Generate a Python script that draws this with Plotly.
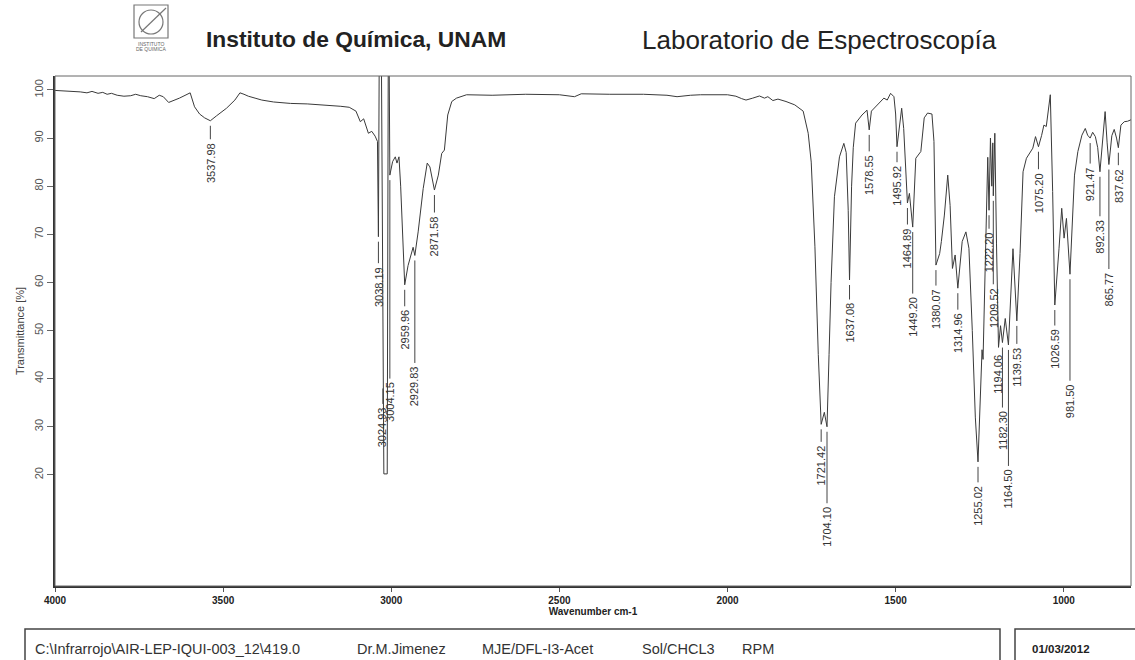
import plotly.graph_objects as go

# ---------------------------------------------------------------- data
wavenumber = [
    4000, 3975, 3950, 3925, 3905, 3890, 3872, 3858, 3845, 3832, 3815, 3795,
    3775, 3760, 3745, 3725, 3705, 3690, 3678, 3662, 3630, 3598, 3585, 3570,
    3555, 3537.98, 3520, 3490, 3465, 3450, 3438, 3425, 3405, 3385, 3350, 3300,
    3250, 3200, 3150, 3125, 3105, 3092, 3082, 3068, 3058, 3048, 3041, 3038.19,
    3036, 3029, 3024.93, 3022, 3012, 3009, 3006, 3004.15, 2996, 2988, 2983,
    2977, 2972, 2959.96, 2950, 2940, 2935, 2929.83, 2920, 2905, 2893, 2885,
    2871.58, 2860, 2850, 2842, 2832, 2820, 2806, 2776, 2700, 2600, 2500, 2455,
    2435, 2350, 2250, 2180, 2150, 2110, 2080, 2000, 1975, 1958, 1945, 1925,
    1905, 1890, 1880, 1865, 1850, 1826, 1800, 1775, 1760, 1751, 1740, 1730,
    1721.42, 1712, 1704.10, 1698, 1692, 1682, 1667, 1654, 1647, 1641, 1637.08,
    1631, 1626, 1619, 1600, 1585, 1578.55, 1572, 1555, 1545, 1535, 1525, 1515,
    1505, 1500, 1495.92, 1488, 1482, 1476, 1464.89, 1459, 1449.20, 1440, 1425,
    1415, 1405, 1392, 1386, 1380.07, 1369, 1364, 1355, 1345, 1338, 1331, 1323,
    1314.96, 1302, 1291, 1282, 1272, 1263, 1255.02, 1247, 1243, 1240, 1235,
    1230, 1226, 1222.20, 1218, 1214, 1211, 1209.52, 1205, 1200, 1196, 1194.06,
    1188, 1182.30, 1174, 1164.50, 1151, 1139.53, 1130, 1121, 1111, 1101, 1092,
    1084, 1075.20, 1066, 1059, 1052, 1048, 1040, 1033, 1026.59, 1014, 1006,
    999, 992, 981.50, 968, 958, 946, 936, 929, 921.47, 914, 906, 899, 892.33,
    884, 877, 871, 865.77, 857, 850, 843, 837.62, 830, 820, 810, 800,
]
transmittance = [
    99.9, 99.8, 99.8, 99.6, 99.4, 99.7, 99.3, 99.5, 99.1, 99.3, 98.9, 98.7,
    98.8, 99.1, 98.8, 98.6, 98.2, 98.9, 98.6, 97.4, 98.3, 99.4, 96.5, 95.0,
    94.2, 93.6, 94.6, 96.2, 97.9, 99.4, 99.1, 98.7, 98.3, 97.9, 97.5, 97.2,
    97.1, 96.9, 96.6, 96.4, 95.6, 93.4, 94.0, 91.0, 91.4, 90.4, 89.3, 69.5,
    103.5, 103.5, 39.0, 20.2, 20.2, 103.5, 103.5, 82.3, 85.1, 86.1, 84.8,
    86.1, 80.0, 59.5, 63.5, 66.4, 67.3, 65.6, 70.5, 79.5, 84.8, 84.0,
    79.2, 82.3, 86.8, 87.5, 94.8, 97.6, 98.3, 99.0, 98.9, 99.1, 99.0, 98.6,
    99.2, 99.1, 99.1, 98.9, 98.6, 98.9, 99.0, 99.0, 98.7, 98.2, 97.9, 98.3,
    98.75, 98.3, 98.6, 97.8, 98.1, 97.6, 96.9, 95.6, 91.0, 85.0, 67.4, 45.0,
    30.5, 33.0, 30.0, 45.0, 60.0, 77.8, 86.1, 88.9, 87.0, 75.0, 60.5,
    80.0, 88.0, 93.1, 94.8, 95.8, 91.7, 95.6, 96.9, 97.6, 98.3, 97.9, 99.3,
    98.6, 95.0, 88.2, 93.0, 96.2, 92.0, 76.5, 78.5, 71.5, 85.8, 87.2,
    94.2, 95.2, 95.0, 89.3, 63.6, 66.0, 68.5, 74.0, 82.3, 76.0, 62.9, 65.7,
    58.8, 68.5, 70.5, 67.1, 50.0, 32.0, 22.7, 38.0, 46.0, 44.0, 60.0,
    72.0, 86.0, 75.0, 90.0, 80.0, 89.0, 78.0, 91.0, 68.0, 50.0, 46.5,
    51.0, 47.5, 52.5, 47.0, 67.0, 52.0, 66.0, 83.0, 85.8, 86.8, 87.9,
    90.3, 88.2, 90.5, 92.7, 92.4, 94.8, 99.0, 78.9, 55.3, 67.1, 75.4,
    69.2, 73.3, 61.7, 82.3, 87.2, 90.6, 92.0, 90.6, 90.0, 91.2, 90.3, 88.0, 83.0,
    90.0, 95.5, 89.0, 84.5, 90.5, 91.8, 90.0, 88.0, 92.7, 93.4, 93.5, 93.8,
]

peak_labels = [
    "3537.98", "3038.19", "3024.93", "3004.15", "2959.96", "2929.83", "2871.58",
    "1721.42", "1704.10", "1637.08", "1578.55", "1495.92", "1464.89", "1449.20",
    "1380.07", "1314.96", "1255.02", "1222.20", "1209.52", "1194.06", "1182.30",
    "1164.50", "1139.53", "1075.20", "1026.59", "981.50", "921.47", "892.33",
    "865.77", "837.62",
]

x_tick_values = [4000, 3500, 3000, 2500, 2000, 1500, 1000]
y_tick_values = [20, 30, 40, 50, 60, 70, 80, 90, 100]

# distance (px) from each picked peak down to the centre of its label
label_drop_px = {
    "3537.98": 42, "3038.19": 50, "3024.93": 44, "3004.15": 227, "2959.96": 45,
    "2929.83": 131, "2871.58": 46, "1721.42": 41, "1704.10": 100, "1637.08": 43,
    "1578.55": 45, "1495.92": 39, "1464.89": 45, "1449.20": 90, "1380.07": 44,
    "1314.96": 45, "1255.02": 44, "1222.20": 42, "1209.52": 112, "1194.06": 27,
    "1182.30": 88, "1164.50": 144, "1139.53": 46, "1075.20": 46, "1026.59": 44,
    "981.50": 127, "921.47": 46, "892.33": 65, "865.77": 125, "837.62": 38,
}

# ---------------------------------------------------------------- geometry
W, H = 1135, 660
ML, MR, MT, MB = 55, 4, 76, 74
PW, PH = W - ML - MR, H - MT - MB


def paper(x, y):
    """page pixel -> paper coordinates"""
    return (x - ML) / PW, (H - MB - y) / PH


SANS = "Liberation Sans, Arial, sans-serif"
INK = "#333333"

fig = go.Figure()

fig.add_trace(go.Scatter(
    x=wavenumber, y=transmittance, mode="lines",
    line=dict(color="#3a3a3a", width=1), hoverinfo="x+y", showlegend=False,
))

annotations = []

# picked-peak labels with leader lines
for lab in peak_labels:
    wn = float(lab)
    t = transmittance[wavenumber.index(min(wavenumber, key=lambda w: abs(w - wn)))]
    annotations.append(dict(
        x=wn, y=t, xref="x", yref="y", text=lab, textangle=-90,
        showarrow=True, arrowhead=0, arrowwidth=1, arrowcolor="#444",
        ax=0, ay=label_drop_px[lab], standoff=5,
        font=dict(family=SANS, size=11, color=INK), borderpad=3,
    ))


def page_text(x, y, text, size, bold=False, anchor="left", color="#222"):
    px, py = paper(x, y)
    annotations.append(dict(
        x=px, y=py, xref="paper", yref="paper", text=text, showarrow=False,
        xanchor=anchor, yanchor="middle",
        font=dict(family=SANS, size=size, color=color,
                  weight="bold" if bold else "normal"),
    ))


# header
page_text(204, 39, "Instituto de Química, UNAM", 22.8, bold=True)
page_text(640, 40, "Laboratorio de Espectroscopía", 26)
page_text(151, 44, "INSTITUTO", 5, anchor="center", color="#666")
page_text(151, 49, "DE QUIMICA", 5, anchor="center", color="#666")

# footer
page_text(33, 649, r"C:\Infrarrojo\AIR-LEP-IQUI-003_12\419.0", 14.5, color=INK)
page_text(355, 649, "Dr.M.Jimenez", 14.5, color=INK)
page_text(480, 649, "MJE/DFL-I3-Acet", 14.5, color=INK)
page_text(640, 649, "Sol/CHCL3", 14.5, color=INK)
page_text(740, 649, "RPM", 14.5, color=INK)
page_text(1030, 649, "01/03/2012", 11.5, bold=True, color="#222")

shapes = []


def page_rect(x0, y0, x1, y1, color="#444", width=1.5):
    a, b = paper(x0, y0)
    c, d = paper(x1, y1)
    shapes.append(dict(type="rect", xref="paper", yref="paper",
                       x0=a, y0=d, x1=c, y1=b,
                       line=dict(color=color, width=width)))


# plot frame
shapes.append(dict(type="rect", xref="paper", yref="paper", x0=0, y0=0, x1=1, y1=1,
                   line=dict(color="#666", width=1)))
page_rect(25, 629, 1000, 675)
page_rect(1015, 629, 1145, 675)

# logo
lx0, ly0 = paper(134, 38)
lx1, ly1 = paper(168, 5)
shapes.append(dict(type="rect", xref="paper", yref="paper", x0=lx0, y0=ly0, x1=lx1, y1=ly1,
                   line=dict(color="#777", width=1.2)))
cx0, cy0 = paper(139, 34)
cx1, cy1 = paper(163, 10)
shapes.append(dict(type="circle", xref="paper", yref="paper", x0=cx0, y0=cy0, x1=cx1, y1=cy1,
                   line=dict(color="#777", width=1.2)))
dx0, dy0 = paper(141, 32)
dx1, dy1 = paper(166, 8)
shapes.append(dict(type="line", xref="paper", yref="paper", x0=dx0, y0=dy0, x1=dx1, y1=dy1,
                   line=dict(color="#777", width=1.2)))

fig.update_layout(
    width=W, height=H,
    margin=dict(l=ML, r=MR, t=MT, b=MB, pad=0),
    paper_bgcolor="white", plot_bgcolor="white",
    showlegend=False,
    annotations=annotations,
    shapes=shapes,
    xaxis=dict(
        range=[4000, 800], tickvals=x_tick_values,
        ticks="outside", ticklen=4, tickcolor="#555",
        tickfont=dict(family=SANS, size=10, color="#222", weight="bold"),
        showline=True, linewidth=2, linecolor="#333",
        showgrid=False, zeroline=False,
        title=dict(text="Wavenumber cm-1", standoff=3,
                   font=dict(family=SANS, size=10, color="#222", weight="bold")),
    ),
    yaxis=dict(
        range=[-3.1, 102.9], tickvals=y_tick_values, tickangle=-90,
        ticks="outside", ticklen=6, tickcolor="#666",
        tickfont=dict(family=SANS, size=11, color="#555"),
        showline=True, linewidth=2, linecolor="#333",
        showgrid=False, zeroline=False,
        title=dict(text="Transmittance [%]", standoff=6,
                   font=dict(family=SANS, size=11, color="#444")),
    ),
)

fig.write_html("out.html")
